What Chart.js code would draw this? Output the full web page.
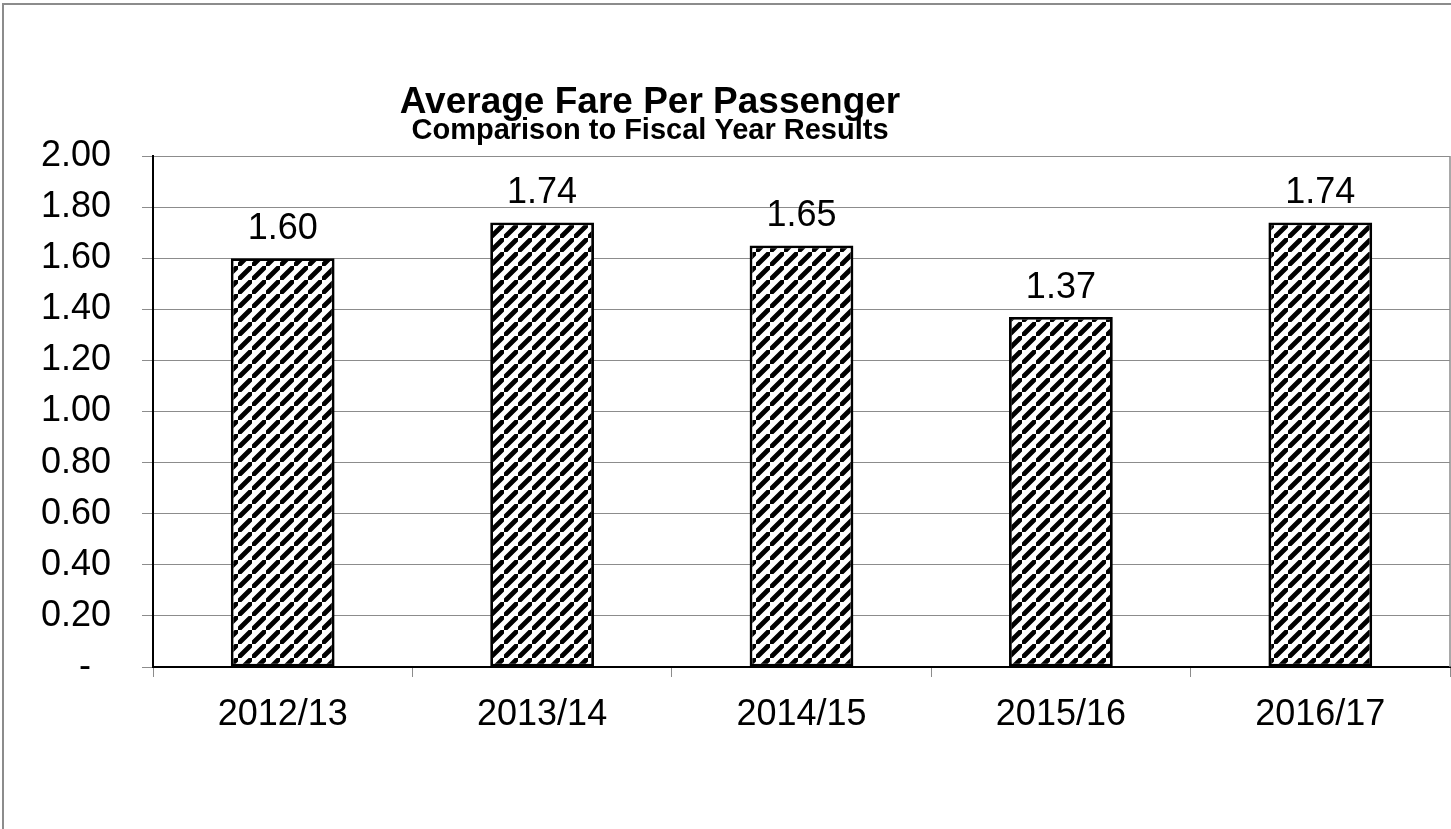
<!DOCTYPE html>
<html>
<head>
<meta charset="utf-8">
<script src="https://cdn.jsdelivr.net/npm/chart.js@4.4.1/dist/chart.umd.min.js"></script>
<style>
  html, body { margin: 0; padding: 0; background: #fff; }
  canvas { display: block; }
</style>
</head>
<body>
<canvas id="fareChart" width="1451" height="829"></canvas>
<script>
var years = ['2012/13', '2013/14', '2014/15', '2015/16', '2016/17'];
var avgFare = [1.60, 1.74, 1.65, 1.37, 1.74];
var yTicks = [0, 0.2, 0.4, 0.6, 0.8, 1.0, 1.2, 1.4, 1.6, 1.8, 2.0];

var FONT = '"Liberation Sans", Arial, sans-serif';

function makeHatch() {
  var size = 14;
  var c = document.createElement('canvas');
  c.width = size; c.height = size;
  var g = c.getContext('2d');
  g.fillStyle = '#fff';
  g.fillRect(0, 0, size, size);
  g.strokeStyle = '#000';
  g.lineWidth = 4.8;
  g.beginPath();
  g.moveTo(-size, size * 2); g.lineTo(size * 2, -size);
  g.moveTo(-size * 2, size); g.lineTo(size, -size * 2);
  g.moveTo(0, size * 3); g.lineTo(size * 3, 0);
  g.stroke();
  return g.createPattern(c, 'repeat');
}

// frame, plot-area right edge, title and value labels
var decorations = {
  id: 'decorations',
  beforeDraw: function(chart) {
    var ctx = chart.ctx;
    ctx.save();
    ctx.strokeStyle = '#8c8c8c';
    ctx.lineWidth = 2;
    ctx.beginPath();
    ctx.moveTo(3, 829); ctx.lineTo(3, 4); ctx.lineTo(1451, 4);
    ctx.stroke();
    ctx.restore();
  },
  afterDatasetsDraw: function(chart) {
    var ctx = chart.ctx;
    var area = chart.chartArea;
    ctx.save();
    ctx.strokeStyle = '#8c8c8c';
    ctx.lineWidth = 1.5;
    ctx.beginPath();
    ctx.moveTo(area.right, area.top); ctx.lineTo(area.right, area.bottom);
    ctx.stroke();

    ctx.fillStyle = '#000';
    ctx.textAlign = 'center';
    ctx.textBaseline = 'alphabetic';
    ctx.font = 'bold 37px ' + FONT;
    ctx.fillText('Average Fare Per Passenger', 650, 113);
    ctx.font = 'bold 29px ' + FONT;
    ctx.fillText('Comparison to Fiscal Year Results', 650, 139);

    ctx.font = '36px ' + FONT;
    chart.getDatasetMeta(0).data.forEach(function(bar, i) {
      ctx.fillText(avgFare[i].toFixed(2), bar.x, bar.y - 19);
    });
    ctx.restore();
  }
};

new Chart(document.getElementById('fareChart'), {
  type: 'bar',
  data: {
    labels: years,
    datasets: [{
      data: avgFare,
      backgroundColor: makeHatch(),
      borderColor: '#000',
      borderWidth: 2.8,
      borderSkipped: false,
      categoryPercentage: 1,
      barPercentage: 0.4
    }]
  },
  options: {
    responsive: false,
    animation: false,
    devicePixelRatio: 1,
    layout: { padding: { top: 156, left: 0, right: 1, bottom: 0 } },
    plugins: { legend: { display: false }, tooltip: { enabled: false } },
    scales: {
      x: {
        afterFit: function(scale) { scale.height = 162; },
        grid: { offset: true, drawOnChartArea: false, color: '#8c8c8c', tickLength: 10 },
        border: { color: '#000', width: 2 },
        ticks: { color: '#000', padding: 16, font: { family: FONT, size: 36 } }
      },
      y: {
        min: 0,
        max: 2,
        afterFit: function(scale) { scale.width = 153; },
        afterBuildTicks: function(scale) {
          scale.ticks = yTicks.map(function(v) { return { value: v }; });
        },
        grid: { color: '#8c8c8c', tickColor: '#8c8c8c', tickLength: 11 },
        border: { color: '#000', width: 2 },
        ticks: {
          color: '#000',
          padding: 31,
          font: { family: FONT, size: 36 },
          callback: function(v) { return v === 0 ? '-  ' : Number(v).toFixed(2); }
        }
      }
    }
  },
  plugins: [decorations]
});
</script>
</body>
</html>
